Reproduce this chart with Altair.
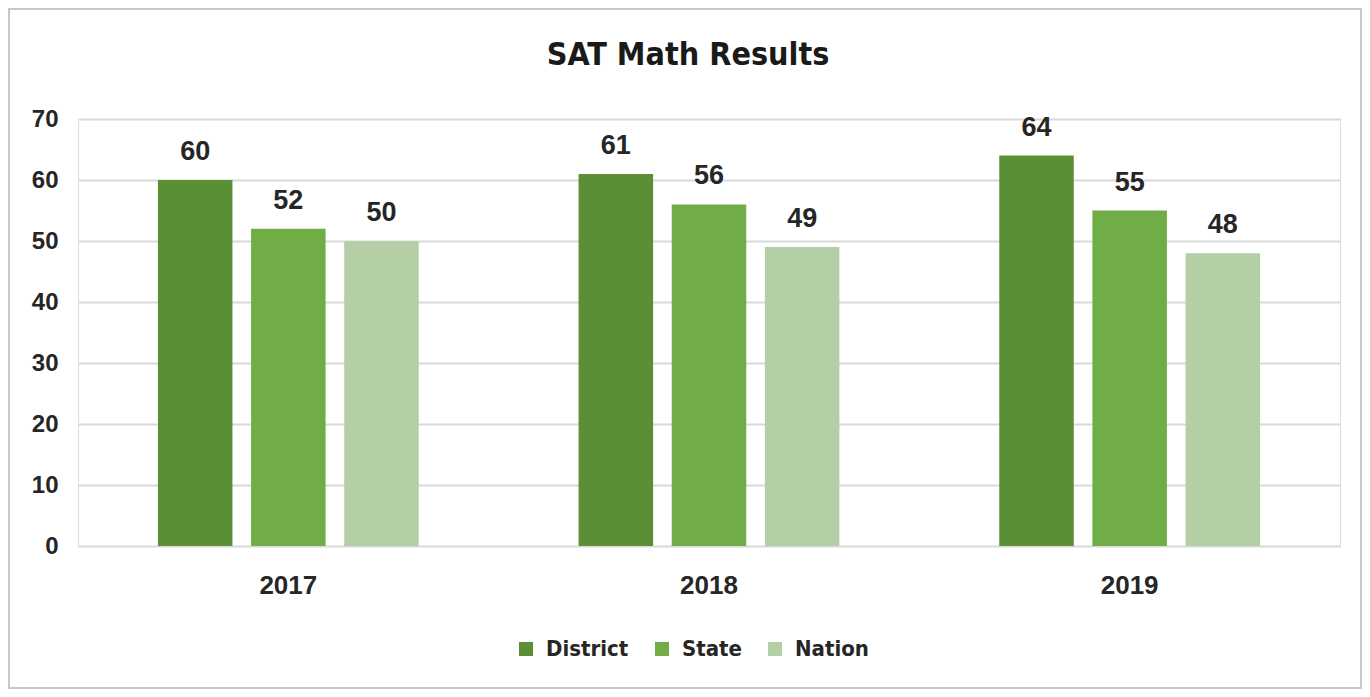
import altair as alt
import pandas as pd

years = ["2017", "2018", "2019"]
series = ["District", "State", "Nation"]
district = [60, 61, 64]
state = [52, 56, 55]
nation = [50, 49, 48]
colors = ["#5b8f36", "#70ad47", "#b4cfa6"]
y_ticks = [0, 10, 20, 30, 40, 50, 60, 70]

rows = []
for i, y in enumerate(years):
    for s, vals in zip(series, [district, state, nation]):
        rows.append({"Year": y, "Series": s, "Value": vals[i]})
df = pd.DataFrame(rows)

FONT = "Liberation Sans Narrow, DejaVu Sans Condensed, Arial Narrow, Liberation Sans, sans-serif"
AXFONT = "Liberation Sans, Arial, sans-serif"

x = alt.X("Year:N", sort=years, title=None,
          scale=alt.Scale(paddingInner=0.38, paddingOuter=0.19),
          axis=alt.Axis(labelAngle=0, labelFontSize=26, labelFont=AXFONT, labelFontWeight="bold",
                        labelColor="#262626", labelPadding=26, ticks=False, domain=False))
xo = alt.XOffset("Series:N", sort=series, scale=alt.Scale(paddingInner=0.2, paddingOuter=0))
y = alt.Y("Value:Q", title=None,
          scale=alt.Scale(domain=[0, 70], nice=False),
          axis=alt.Axis(values=y_ticks, labelFontSize=24, labelFont=AXFONT, labelFontWeight="bold",
                        labelColor="#262626", labelPadding=20, ticks=False, domain=False,
                        grid=True, gridColor="#d9d9d9", gridWidth=2))
color = alt.Color("Series:N", sort=series,
                  scale=alt.Scale(domain=series, range=colors),
                  legend=alt.Legend(title=None, orient="none", direction="horizontal",
                                    legendX=437, legendY=519, symbolType="square", symbolSize=196,
                                    symbolStrokeWidth=0, labelFontSize=22, labelFont=FONT,
                                    labelFontWeight="bold", labelColor="#262626",
                                    columnPadding=22, labelOffset=9))

base = alt.Chart(df)
bars = base.mark_bar().encode(x=x, xOffset=xo, y=y, color=color)
labels = base.mark_text(dy=-20, baseline="alphabetic", fontSize=27, fontWeight="bold",
                        font=AXFONT, color="#262626").encode(
    x=alt.X("Year:N", sort=years), xOffset=xo, y="Value:Q", text="Value:Q")

frame = alt.Chart(pd.DataFrame({"f": [0]})).mark_rect(fill="transparent", stroke="#c8c8c8", strokeWidth=2).encode(
    x=alt.value(-69), x2=alt.value(1283), y=alt.value(-110), y2=alt.value(569))

chart = alt.layer(frame, bars, labels).properties(
    width=1262, height=427,
    title=alt.TitleParams("SAT Math Results", fontSize=32, font=FONT, fontWeight="bold",
                          color="#1a1a1a", anchor="middle", offset=-64, dx=-21),
    autosize=alt.AutoSizeParams(type="none"),
    padding={"left": 70, "top": 111, "right": 22, "bottom": 143},
).configure_view(stroke=None).configure(background="white")

chart.save("out.html", embed_options={"renderer": "svg", "actions": False})
